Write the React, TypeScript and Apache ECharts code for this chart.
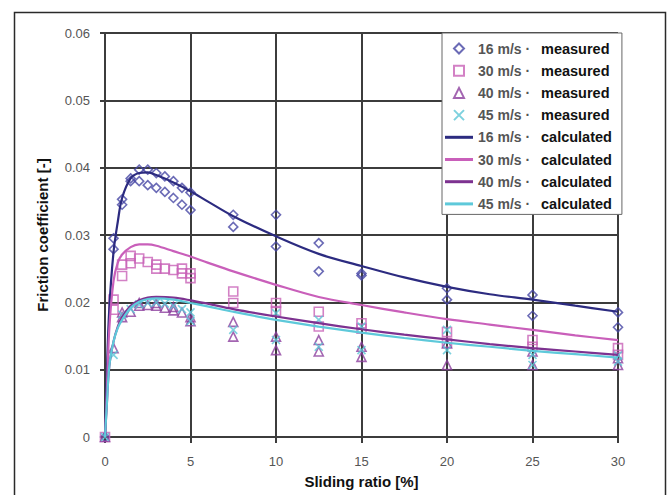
import React, { useEffect, useRef } from "react";
import * as echarts from "echarts";

// Measured points [sliding ratio %, friction coefficient]
const measured16: number[][] = [
  [0, 0], [0.5, 0.0295], [0.5, 0.0279], [1, 0.0353], [1, 0.0345], [1.5, 0.0384], [1.5, 0.038],
  [2, 0.0397], [2, 0.038], [2.5, 0.0397], [2.5, 0.0374], [3, 0.0392], [3, 0.037], [3.5, 0.0387],
  [3.5, 0.0364], [4, 0.038], [4, 0.0355], [4.5, 0.037], [4.5, 0.0345], [5, 0.0363], [5, 0.0337],
  [7.5, 0.033], [7.5, 0.0312], [10, 0.033], [10, 0.0283], [12.5, 0.0288], [12.5, 0.0246],
  [15, 0.0243], [15, 0.024], [20, 0.0221], [20, 0.0204], [25, 0.0211], [25, 0.018], [30, 0.0185], [30, 0.0163],
];
const measured30: number[][] = [
  [0, 0], [0.5, 0.0204], [0.5, 0.0189], [1, 0.0256], [1, 0.0239], [1.5, 0.0269], [1.5, 0.0258],
  [2, 0.0265], [2.5, 0.026], [3, 0.0256], [3, 0.025], [3.5, 0.025], [4, 0.0248], [4.5, 0.025],
  [4.5, 0.0243], [5, 0.0243], [5, 0.0236], [7.5, 0.0216], [7.5, 0.0199], [10, 0.0199], [10, 0.0187],
  [12.5, 0.0186], [12.5, 0.0164], [15, 0.0169], [15, 0.0161], [20, 0.0156], [20, 0.014],
  [25, 0.0144], [25, 0.0134], [30, 0.0132], [30, 0.0122],
];
const measured40: number[][] = [
  [0, 0], [0.5, 0.0132], [1, 0.0178], [1, 0.0185], [1.5, 0.0186], [2, 0.0195], [2, 0.0199], [2.5, 0.0196],
  [3, 0.0195], [3, 0.0199], [3.5, 0.0192], [4, 0.0188], [4, 0.0193], [4.5, 0.0185], [5, 0.0178], [5, 0.0172],
  [7.5, 0.0171], [7.5, 0.0149], [10, 0.0149], [10, 0.0129], [12.5, 0.0144], [12.5, 0.0127],
  [15, 0.0134], [15, 0.0119], [20, 0.0139], [20, 0.0107], [25, 0.0127], [25, 0.0107], [30, 0.0117], [30, 0.0107],
];
const measured45: number[][] = [
  [0, 0], [0.5, 0.0122], [1, 0.0182], [1.5, 0.019], [2, 0.0197], [2.5, 0.0199], [3, 0.02], [3.5, 0.0198],
  [4, 0.0195], [4.5, 0.019], [5, 0.0185], [5, 0.0172], [7.5, 0.0159], [10, 0.0184], [10, 0.0144],
  [12.5, 0.0174], [12.5, 0.0134], [15, 0.0164], [15, 0.0129], [20, 0.0159], [20, 0.0129],
  [25, 0.0122], [25, 0.0107], [30, 0.0121], [30, 0.0112],
];

// Calculated curves
const calcX = [0, 0.1, 0.25, 0.5, 0.75, 1, 1.5, 2, 2.5, 3, 4, 5, 6, 7.5, 10, 12.5, 15, 17.5, 20, 22.5, 25, 27.5, 30];
const calc16 = [0, 0.009, 0.019, 0.0275, 0.032, 0.0355, 0.0384, 0.0392, 0.0393, 0.0389, 0.0378, 0.0365, 0.035, 0.0328, 0.0298, 0.0272, 0.0254, 0.0237, 0.0223, 0.0212, 0.0204, 0.0195, 0.0186];
const calc30 = [0, 0.006, 0.016, 0.0232, 0.0259, 0.0271, 0.0282, 0.0286, 0.0286, 0.0284, 0.0276, 0.0268, 0.0259, 0.0246, 0.0226, 0.0208, 0.0196, 0.0185, 0.0175, 0.0167, 0.0159, 0.0151, 0.0144];
const calc40 = [0, 0.0045, 0.0105, 0.0142, 0.0164, 0.0178, 0.0195, 0.0203, 0.0207, 0.0208, 0.0207, 0.0203, 0.0198, 0.019, 0.0179, 0.0169, 0.016, 0.0152, 0.0145, 0.0138, 0.0132, 0.0127, 0.0122];
const calc45 = [0, 0.0045, 0.0105, 0.0142, 0.0162, 0.0174, 0.0192, 0.0201, 0.0205, 0.0206, 0.0204, 0.0199, 0.0194, 0.0186, 0.0174, 0.0164, 0.0155, 0.0147, 0.014, 0.0134, 0.0128, 0.0123, 0.0118];

const xTicks = [0, 5, 10, 15, 20, 25, 30];
const yTicks = [0, 0.01, 0.02, 0.03, 0.04, 0.05, 0.06];

const FONT = "'Liberation Sans', Arial, sans-serif";
const GRID = "#3c3c3c";

const ICON_DIAMOND = "path://M5,0L10,5L5,10L0,5Z";
const ICON_SQUARE = "path://M0,0L10,0L10,10L0,10Z";
const ICON_TRIANGLE = "path://M5,0L10,10L0,10Z";
const ICON_X = "path://M0,0L10,10M0,10L10,0";
const ICON_LINE = "path://M0,0L28,0L28,3L0,3Z";

const pair = (xs: number[], ys: number[]) => xs.map((x, i) => [x, ys[i]]);

export default function App() {
  const ref = useRef<HTMLDivElement>(null);
  useEffect(() => {
    if (!ref.current) return;
    const chart = echarts.init(ref.current, undefined, { renderer: "svg" });
    const scatter = (name: string, data: number[][], symbol: string, color: string, size: number) => ({
      type: "scatter",
      name,
      data,
      symbol,
      symbolSize: size,
      itemStyle: { color: "rgba(255,255,255,0)", borderColor: color, borderWidth: 1.6 },
      z: 3,
    });
    const line = (name: string, ys: number[], color: string) => ({
      type: "line",
      name,
      data: pair(calcX, ys),
      symbol: "none",
      smooth: 0.35,
      lineStyle: { color, width: 2.2 },
      itemStyle: { color },
      z: 4,
    });
    chart.setOption({
      animation: false,
      backgroundColor: "#ffffff",
      textStyle: { fontFamily: FONT },
      grid: { left: 105, right: 52, top: 33, bottom: 58 },
      xAxis: {
        type: "value",
        min: xTicks[0],
        max: xTicks[xTicks.length - 1],
        interval: 5,
        name: "Sliding ratio [%]",
        nameLocation: "middle",
        nameGap: 37,
        nameTextStyle: { fontFamily: FONT, fontWeight: "bold", fontSize: 15, color: "#111" },
        axisLine: { lineStyle: { color: GRID, width: 2 } },
        axisTick: { show: true, inside: false, length: 6, lineStyle: { color: GRID, width: 2 } },
        axisLabel: { margin: 18, fontFamily: FONT, fontSize: 13, color: "#555" },
        splitLine: { show: true, lineStyle: { color: GRID, width: 2 } },
      },
      yAxis: {
        type: "value",
        min: yTicks[0],
        max: yTicks[yTicks.length - 1],
        interval: 0.01,
        name: "Friction coefficient [-]",
        nameLocation: "middle",
        nameGap: 55,
        nameTextStyle: { fontFamily: FONT, fontWeight: "bold", fontSize: 15, color: "#111" },
        axisLine: { show: true, lineStyle: { color: GRID, width: 2 } },
        axisTick: { show: true, inside: false, length: 5, lineStyle: { color: GRID, width: 2 } },
        axisLabel: {
          margin: 15,
          fontFamily: FONT,
          fontSize: 13,
          color: "#555",
          formatter: (v: number) => (v === 0 ? "0" : v.toFixed(2)),
        },
        splitLine: { show: true, lineStyle: { color: GRID, width: 2 } },
      },
      legend: {
        left: 442,
        top: 33,
        orient: "vertical",
        itemWidth: 28,
        itemHeight: 10,
        itemGap: 7.2,
        padding: [8, 10, 3, 3],
        backgroundColor: "#ffffff",
        borderColor: "#666",
        borderWidth: 1,
        selectedMode: false,
        symbolKeepAspect: true,
        z: 10,
        formatter: (name: string) => {
          const parts = name.split(" ");
          return `{a|${parts[0]} ${parts[1]} ·}{b|${parts[2]}}`;
        },
        textStyle: {
          fontFamily: FONT,
          lineHeight: 10,
          rich: {
            a: { fontFamily: FONT, fontSize: 14, lineHeight: 10, fontWeight: "bold", color: "#555", width: 63 },
            b: { fontFamily: FONT, fontSize: 14.5, lineHeight: 10, fontWeight: "bold", color: "#111" },
          },
        },
        data: [
          { name: "16 m/s measured", icon: ICON_DIAMOND },
          { name: "30 m/s measured", icon: ICON_SQUARE },
          { name: "40 m/s measured", icon: ICON_TRIANGLE },
          { name: "45 m/s measured", icon: ICON_X },
          { name: "16 m/s calculated", icon: ICON_LINE },
          { name: "30 m/s calculated", icon: ICON_LINE },
          { name: "40 m/s calculated", icon: ICON_LINE },
          { name: "45 m/s calculated", icon: ICON_LINE },
        ],
      },
      graphic: [
        {
          type: "rect",
          left: 12,
          top: 10,
          shape: { x: 0, y: 0, width: 651, height: 500 },
          style: { fill: "none", stroke: "#2a2a2a", lineWidth: 1.5 },
          z: 0,
          silent: true,
        },
      ],
      series: [
        scatter("16 m/s measured", measured16, "diamond", "#4646a4", 9),
        scatter("30 m/s measured", measured30, "rect", "#c862b6", 9),
        scatter("40 m/s measured", measured40, "triangle", "#8c3f9e", 9),
        scatter("45 m/s measured", measured45, ICON_X, "#5cc5d6", 8),
        line("16 m/s calculated", calc16, "#2c2b80"),
        line("30 m/s calculated", calc30, "#c95fba"),
        line("40 m/s calculated", calc40, "#7d3290"),
        line("45 m/s calculated", calc45, "#5ec9da"),
      ],
    });
    return () => chart.dispose();
  }, []);
  return (
    <div
      ref={ref}
      style={{ position: "fixed", left: 0, top: 0, width: 670, height: 495, background: "#fff" }}
    />
  );
}
